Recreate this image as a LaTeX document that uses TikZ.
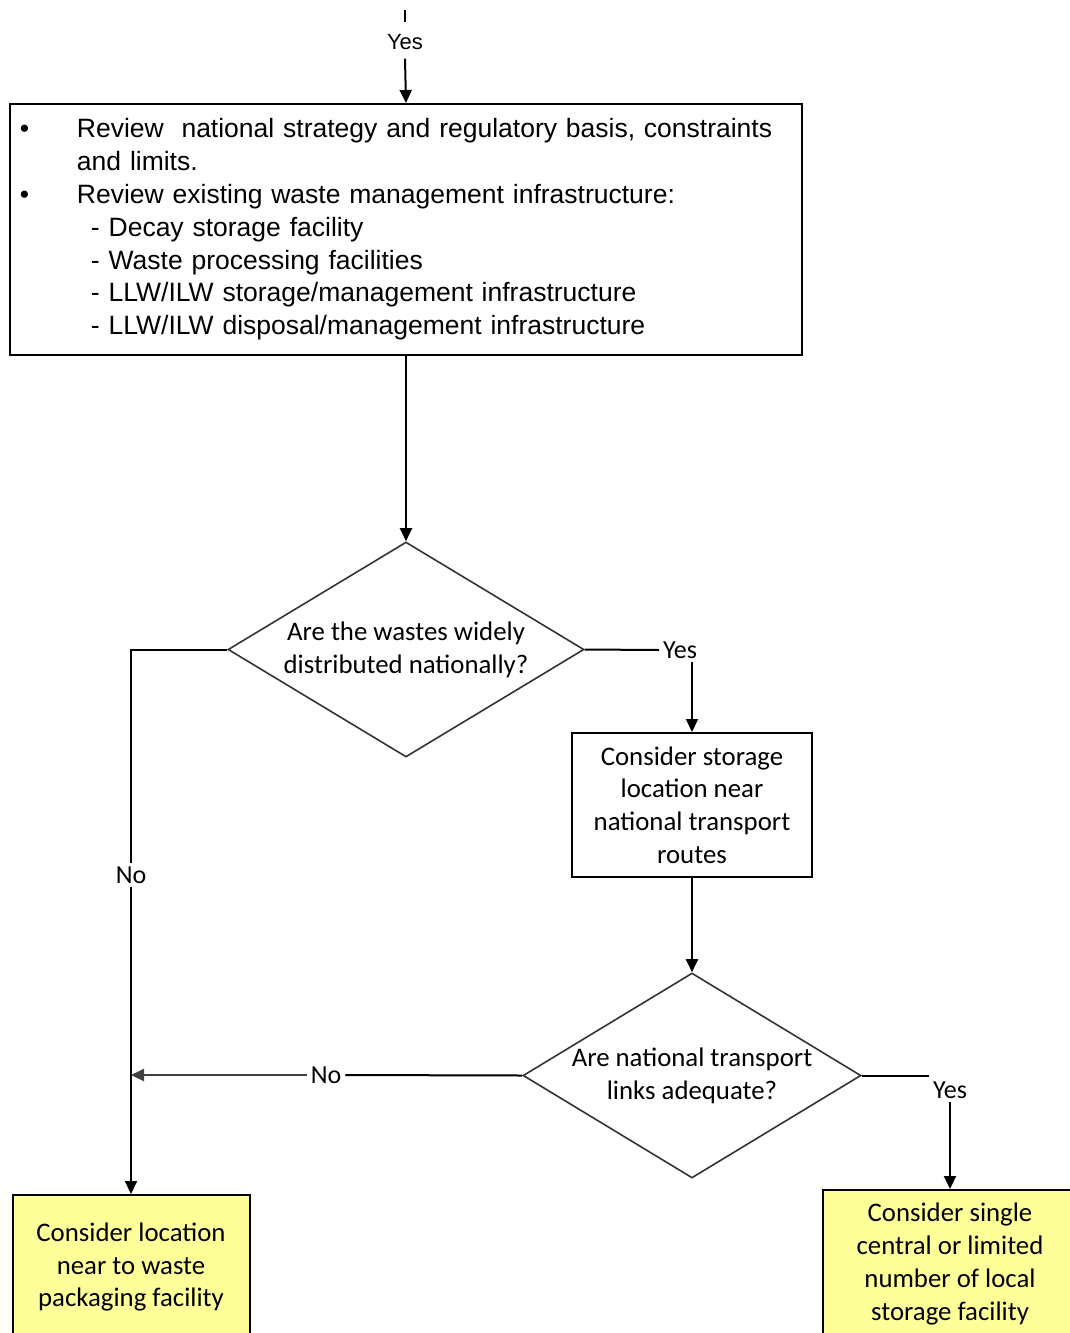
\documentclass[tikz,border=0pt]{standalone}
\usepackage{fontspec}
\usepackage{tikz}
\usetikzlibrary{positioning, shapes.geometric, arrows.meta}
\newfontfamily\calfont{Carlito}
\newfontfamily\arialfont{Liberation Sans}
\definecolor{notefill}{RGB}{255,255,153}

\begin{document}
\begin{tikzpicture}[x=0.5pt, y=-0.5pt,
    line width=1pt,
    arr/.style={-{Triangle[length=6.5pt, width=6pt]}},
    reviewbox/.style={draw, line width=1pt, inner sep=0pt, text width=396pt, minimum height=125.5pt, align=left, font=\arialfont\fontsize{13.25}{16.4}\selectfont},
    stepbox/.style={draw, line width=1pt, inner sep=0pt, align=center, font=\calfont\fontsize{13.4}{16.4}\selectfont},
    notebox/.style={stepbox, fill=notefill},
    question/.style={diamond, shape aspect=1.65, draw=black!80, line width=0.8pt, inner sep=0pt, align=center, font=\calfont\fontsize{13.4}{16.4}\selectfont},
    answer/.style={inner sep=1.5pt, font=\calfont\fontsize{13}{15}\selectfont}]
    \useasboundingbox (0,0) rectangle (1070,1333);
    \clip (0,0) rectangle (1070,1333);
    \coordinate (top) at (405,10);
    \coordinate (stubend) at (405,22);
    \node[answer, inner sep=4pt, font=\arialfont\fontsize{11}{13}\selectfont] (yestop) at (405,42) {Yes};
    \node[reviewbox] (review) at (406,229.5) {%
        \hspace*{5pt}\makebox[28.5pt][l]{\textbullet}Review\ \ national strategy and regulatory basis, constraints\\
        \hspace*{33.5pt}and limits.\\
        \hspace*{5pt}\makebox[28.5pt][l]{\textbullet}Review existing waste management infrastructure:\\
        \hspace*{40.5pt}- Decay storage facility\\
        \hspace*{40.5pt}- Waste processing facilities\\
        \hspace*{40.5pt}- LLW/ILW storage/management infrastructure\\
        \hspace*{40.5pt}- LLW/ILW disposal/management infrastructure};
    \node[question, minimum width=178pt, minimum height=107.5pt] (widely) at (406,649.5) {Are the wastes widely\\distributed nationally?};
    \node[stepbox, minimum width=120pt, minimum height=72pt] (nearroutes) at (692,805) {Consider storage\\location near\\national transport\\routes};
    \node[question, inner xsep=-3pt, minimum width=169pt, minimum height=102.5pt] (links) at (692,1075.5) {Are national transport\\links adequate?};
    \node[notebox, minimum width=118.5pt, minimum height=72pt] (nearpack) at (131,1267) {Consider location\\near to waste\\packaging facility};
    \node[notebox, minimum width=127pt, minimum height=74pt] (single) at (950,1264) {Consider single\\central or limited\\number of local\\storage facility};
    \node[answer] (yesone) at (680,650) {Yes};
    \node[answer] (noone) at (131,875) {No};
    \node[answer] (notwo) at (326,1075) {No};
    \node[answer] (yestwo) at (950,1090) {Yes};
    \coordinate (meet) at (131,1075);
    \draw (top) -- (stubend);
    \draw[arr] (yestop.south) -- (review.north);
    \draw[arr] (review.south) -- (widely.north);
    \draw (widely.east) -- (yesone.west);
    \draw[arr] (yesone.south -| nearroutes.north) -- (nearroutes.north);
    \draw[arr] (nearroutes.south) -- (links.north);
    \draw (widely.west) -| (noone.north);
    \draw[arr] (noone.south) -- (nearpack.north);
    \draw (links.west) -- (notwo.east);
    \draw[arr, black!75] (notwo.west) -- (meet);
    \draw (links.east) -- (links.east -| yestwo.west);
    \draw[arr] (yestwo.south) -- (single.north);
\end{tikzpicture}
\end{document}
